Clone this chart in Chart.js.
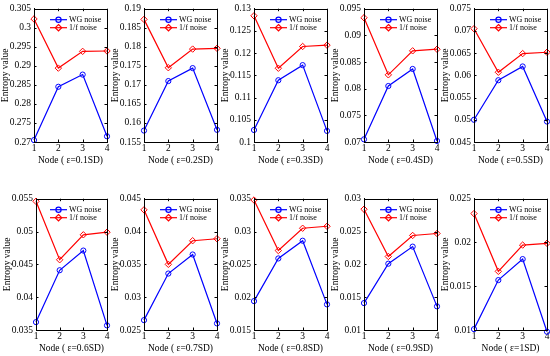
<!DOCTYPE html>
<html>
<head>
<meta charset="utf-8">
<script src="https://cdn.jsdelivr.net/npm/chart.js@4.4.1/dist/chart.umd.min.js"></script>
<style>
  body { margin: 0; background: #fff; }
  #wrap { position: relative; width: 550px; height: 356px; background: #fff; overflow: hidden; }
  #wrap canvas { position: absolute; }
</style>
</head>
<body>
<div id="wrap"></div>
<script>
// entropy per node, one row per noise level (eps = 0.1SD ... 1SD)
const nodes = ['1', '2', '3', '4'];
const epsLabels = ['0.1SD', '0.2SD', '0.3SD', '0.4SD', '0.5SD', '0.6SD', '0.7SD', '0.8SD', '0.9SD', '1SD'];

const wgNoise = [
  [0.2705, 0.2845, 0.2877, 0.2715],
  [0.1580, 0.1710, 0.1744, 0.1582],
  [0.1027, 0.1139, 0.1173, 0.1025],
  [0.0705, 0.0805, 0.0837, 0.0702],
  [0.0500, 0.0589, 0.0620, 0.0496],
  [0.0362, 0.0441, 0.0471, 0.0357],
  [0.0265, 0.0336, 0.0365, 0.0260],
  [0.0194, 0.0259, 0.0286, 0.0189],
  [0.0141, 0.0201, 0.0227, 0.0136],
  [0.0101, 0.0157, 0.0181, 0.0098]
];
const pinkNoise = [
  [0.3023, 0.2894, 0.2938, 0.2939],
  [0.1872, 0.1745, 0.1794, 0.1796],
  [0.1284, 0.1166, 0.1215, 0.1218],
  [0.0933, 0.0826, 0.0871, 0.0874],
  [0.0705, 0.0607, 0.0649, 0.0652],
  [0.0546, 0.0457, 0.0495, 0.0499],
  [0.0433, 0.0350, 0.0386, 0.0389],
  [0.0348, 0.0271, 0.0305, 0.0308],
  [0.0284, 0.0212, 0.0244, 0.0247],
  [0.0233, 0.0167, 0.0197, 0.0199]
];

// y axis range and tick step per panel
const yMin  = [0.27, 0.155, 0.1, 0.07, 0.045, 0.035, 0.025, 0.015, 0.01, 0.01];
const yMax  = [0.305, 0.19, 0.13, 0.095, 0.075, 0.055, 0.045, 0.035, 0.03, 0.025];
const yStep = [0.005, 0.005, 0.005, 0.005, 0.005, 0.005, 0.005, 0.005, 0.005, 0.005];

const seriesNames = ['WG noise', '1/f noise'];
const FONT = "'Liberation Serif', 'Times New Roman', serif";

// box around plot + inward tick marks + legend inside top right
const matlabBox = {
  id: 'matlabBox',
  afterDraw(chart) {
    const c = chart.ctx, a = chart.chartArea;
    c.save();
    c.strokeStyle = '#000';
    c.lineWidth = 1;
    c.strokeRect(Math.round(a.left) + 0.5, Math.round(a.top) + 0.5,
                 Math.round(a.right - a.left), Math.round(a.bottom - a.top));
    c.beginPath();
    const ys = chart.scales.y;
    ys.ticks.forEach(t => {
      const y = Math.round(ys.getPixelForValue(t.value)) + 0.5;
      c.moveTo(a.left, y); c.lineTo(a.left + 2.5, y);
      c.moveTo(a.right, y); c.lineTo(a.right - 2.5, y);
    });
    const xs = chart.scales.x;
    xs.ticks.forEach((t, i) => {
      const x = Math.round(xs.getPixelForTick(i)) + 0.5;
      c.moveTo(x, a.bottom); c.lineTo(x, a.bottom - 2.5);
      c.moveTo(x, a.top); c.lineTo(x, a.top + 2.5);
    });
    c.stroke();

    // legend
    c.font = '8px ' + FONT;
    c.textBaseline = 'middle';
    chart.data.datasets.forEach((ds, i) => {
      const y = a.top + 11 + i * 8;
      const x0 = a.right - 57, x1 = a.right - 40;
      c.strokeStyle = ds.borderColor;
      c.lineWidth = 1.2;
      c.beginPath(); c.moveTo(x0, y); c.lineTo(x1, y); c.stroke();
      c.beginPath();
      const mx = (x0 + x1) / 2;
      if (ds.pointStyle === 'circle') {
        c.arc(mx, y, 2.6, 0, Math.PI * 2);
      } else {
        c.moveTo(mx, y - 3.2); c.lineTo(mx + 3.2, y); c.lineTo(mx, y + 3.2); c.lineTo(mx - 3.2, y); c.closePath();
      }
      c.stroke();
      c.fillStyle = '#000';
      c.fillText(ds.label, x1 + 2, y);
    });
    c.restore();
  }
};

const wrap = document.getElementById('wrap');
const Y_AXIS_W = 38, X_AXIS_H = 28, PAD_TOP = 5, PAD_RIGHT = 6;

for (let p = 0; p < 10; p++) {
  const row = Math.floor(p / 5), col = p % 5;
  let plotLeft = [34, 144, 254, 364, 474][col];
  let plotW = 73;
  if (row === 1 && col === 0) { plotLeft = 36; plotW = 71; }
  const plotTop = row === 0 ? 5 : 195;
  const plotH = row === 0 ? 137 : 135;

  const cv = document.createElement('canvas');
  const w = Y_AXIS_W + plotW + PAD_RIGHT;
  const h = PAD_TOP + plotH + X_AXIS_H;
  cv.width = w; cv.height = h;
  cv.style.width = w + 'px'; cv.style.height = h + 'px';
  cv.style.left = (plotLeft - Y_AXIS_W) + 'px';
  cv.style.top = (plotTop - PAD_TOP) + 'px';
  wrap.appendChild(cv);

  new Chart(cv, {
    type: 'line',
    data: {
      labels: nodes,
      datasets: [{
        label: seriesNames[0],
        data: wgNoise[p],
        borderColor: '#0000ff',
        backgroundColor: 'rgba(0,0,0,0)',
        borderWidth: 1.2,
        pointStyle: 'circle',
        pointRadius: 2.6,
        pointBorderWidth: 1,
        pointBackgroundColor: 'rgba(0,0,0,0)',
        clip: false
      }, {
        label: seriesNames[1],
        data: pinkNoise[p],
        borderColor: '#ff0000',
        backgroundColor: 'rgba(0,0,0,0)',
        borderWidth: 1.2,
        pointStyle: 'rectRot',
        pointRadius: 3.2,
        pointBorderWidth: 1,
        pointBackgroundColor: 'rgba(0,0,0,0)',
        clip: false
      }]
    },
    options: {
      responsive: false,
      animation: false,
      devicePixelRatio: 1,
      layout: { padding: { top: PAD_TOP, right: PAD_RIGHT, left: 0, bottom: 0 } },
      plugins: { legend: { display: false }, tooltip: { enabled: false } },
      scales: {
        x: {
          offset: false,
          grid: { display: false, drawTicks: false },
          border: { display: true, color: '#000' },
          ticks: { color: '#000', font: { family: FONT, size: 9.5 }, padding: 1, maxRotation: 0 },
          title: { display: true, text: 'Node ( ε=' + epsLabels[p] + ')', color: '#000',
                   font: { family: FONT, size: 9.5 } },
          afterFit(s) { s.height = X_AXIS_H; }
        },
        y: {
          min: yMin[p],
          max: yMax[p],
          grid: { display: false, drawTicks: false },
          border: { display: true, color: '#000' },
          ticks: {
            stepSize: yStep[p],
            color: '#000',
            font: { family: FONT, size: 9.5 },
            padding: 3,
            callback: v => String(+v.toFixed(4))
          },
          title: { display: true, text: 'Entropy value', color: '#000',
                   font: { family: FONT, size: 9.5 } },
          afterFit(s) { s.width = Y_AXIS_W; }
        }
      }
    },
    plugins: [matlabBox]
  });
}
</script>
</body>
</html>
